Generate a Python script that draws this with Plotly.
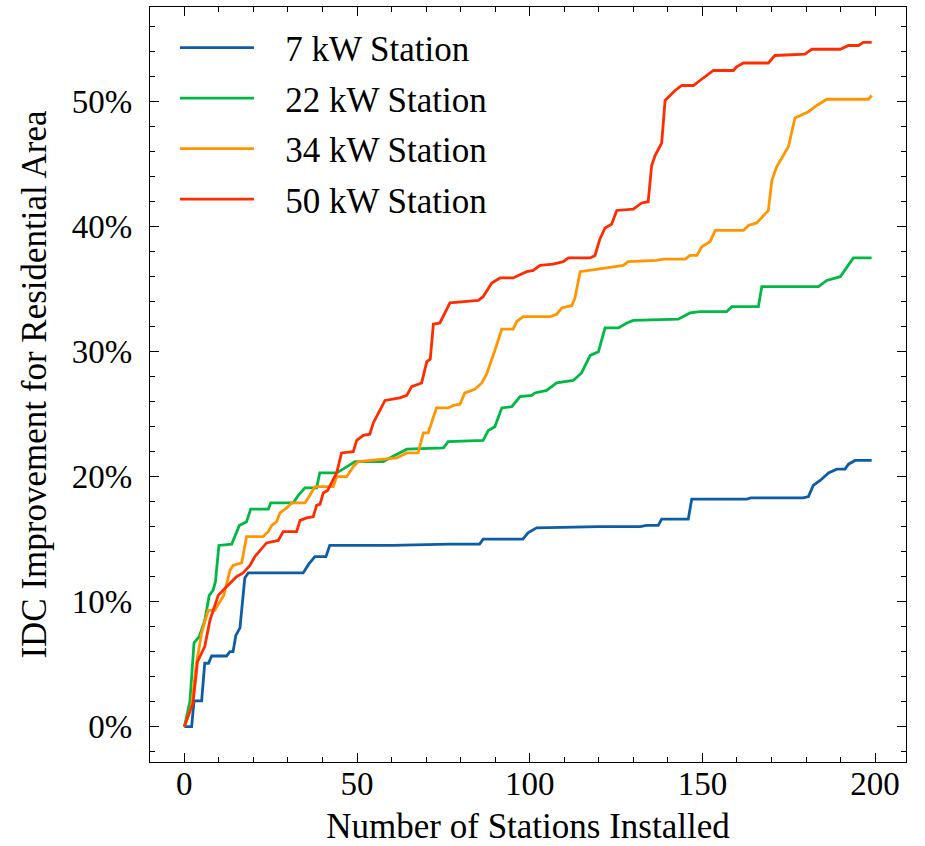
import plotly.graph_objects as go

# ---- data (x = number of stations installed, y = IDC improvement in %) ----
series_names = ["7 kW Station", "22 kW Station", "34 kW Station", "50 kW Station"]
series_colors = ["#0C5DA5", "#00B945", "#FF9500", "#FF2C00"]

x_7kw = [0, 2.1, 2.8, 5.0, 5.9, 7.0, 7.9, 12.2, 13.2, 14.1, 14.9, 16.1, 17.5, 18.5,
         34.4, 36.0, 37.8, 41.0, 42.1, 60.0, 77.0, 85.5, 86.5, 98.0, 99.5, 102.0,
         120.0, 132.0, 133.8, 137.2, 138.2, 145.9, 146.9, 162.8, 164.0, 179.2, 180.7,
         182.1, 184.1, 186.5, 188.9, 191.3, 192.3, 194.2, 199.0]
y_7kw = [0, 0, 2.06, 2.06, 5.07, 5.07, 5.65, 5.65, 6.0, 6.0, 7.3, 7.9, 11.9, 12.3,
         12.3, 13.0, 13.6, 13.6, 14.5, 14.5, 14.6, 14.6, 15.0, 15.0, 15.5, 15.9,
         16.0, 16.0, 16.1, 16.1, 16.6, 16.6, 18.2, 18.2, 18.3, 18.3, 18.4,
         19.3, 19.7, 20.3, 20.6, 20.6, 21.0, 21.3, 21.3]

x_22kw = [0, 1.6, 2.8, 4.3, 5.9, 7.2, 8.3, 9.0, 10.0, 13.7, 14.6, 15.9, 18.0, 19.2,
          24.3, 25.0, 31.5, 33.0, 34.9, 38.3, 39.2, 44.1, 46.5, 49.4, 57.6, 59.5,
          64.4, 75.0, 76.4, 86.5, 88.0, 89.9, 91.9, 94.8, 97.2, 100.6, 101.5, 104.9,
          107.8, 112.6, 115.0, 117.5, 119.9, 121.8, 125.7, 128.1, 130.0, 143.0, 146.4,
          149.3, 157.0, 158.5, 166.2, 167.2, 183.6, 186.0, 189.9, 193.7, 199.0]
y_22kw = [0, 2.0, 6.7, 7.2, 8.5, 10.5, 10.9, 11.6, 14.5, 14.6, 15.2, 16.1, 16.4, 17.4,
          17.4, 17.9, 17.9, 18.5, 19.1, 19.1, 20.3, 20.3, 20.7, 21.2, 21.2, 21.5,
          22.2, 22.3, 22.8, 22.9, 23.7, 24.0, 25.5, 25.6, 26.4, 26.5, 26.7, 26.9,
          27.5, 27.7, 28.3, 29.7, 30.0, 31.9, 31.9, 32.3, 32.5, 32.6, 33.1,
          33.2, 33.2, 33.6, 33.6, 35.2, 35.2, 35.7, 36.0, 37.5, 37.5]

x_34kw = [0, 2.1, 3.5, 5.0, 6.9, 8.8, 10.3, 11.4, 13.2, 14.1, 16.6, 18.0, 22.8, 24.3,
          25.3, 26.7, 27.7, 29.6, 31.1, 34.9, 36.3, 37.8, 43.1, 44.1, 47.0, 48.9, 50.3,
          61.5, 64.4, 67.7, 69.2, 70.6, 73.0, 76.4, 77.9, 79.8, 81.2, 84.1, 86.1, 87.5,
          89.9, 91.9, 95.2, 96.2, 98.1, 105.9, 107.8, 109.3, 112.2, 113.1, 114.6, 119.4,
          122.3, 127.1, 128.5, 136.8, 138.7, 145.0, 146.4, 148.4, 149.8, 152.2, 153.7,
          161.9, 163.3, 165.7, 169.1, 170.1, 171.5, 173.0, 174.9, 176.8, 178.3, 180.7,
          183.1, 186.0, 198.1, 199.0]
y_34kw = [0, 1.7, 5.1, 7.5, 9.3, 9.3, 10.0, 10.5, 12.5, 12.9, 13.1, 15.2, 15.2, 15.6,
          16.1, 16.4, 17.1, 17.5, 17.9, 17.9, 18.5, 19.2, 19.2, 20.0, 20.0, 20.8, 21.2,
          21.5, 21.9, 21.9, 23.5, 23.5, 25.5, 25.5, 25.7, 25.8, 26.7, 27.0, 27.5, 28.2,
          30.1, 31.8, 31.8, 32.4, 32.8, 32.8, 33.0, 33.5, 33.7, 34.3, 36.4, 36.6,
          36.7, 36.9, 37.2, 37.3, 37.4, 37.4, 37.7, 37.7, 38.4, 38.8, 39.7,
          39.7, 40.1, 40.3, 41.3, 43.7, 44.8, 45.5, 46.4, 48.7, 48.9, 49.2,
          49.7, 50.2, 50.2, 50.5]

x_50kw = [0, 2.5, 3.8, 5.9, 7.4, 9.8, 12.2, 15.1, 17.0, 19.0, 20.4, 23.8, 27.2, 28.6,
          32.5, 33.5, 35.4, 37.3, 38.3, 39.3, 40.2, 41.5, 42.6, 44.1, 45.5, 48.9, 49.9,
          51.8, 53.7, 54.7, 56.6, 58.1, 62.4, 64.4, 65.8, 68.7, 70.2, 71.2, 72.1, 74.0,
          76.9, 82.7, 85.1, 86.5, 89.0, 91.4, 95.2, 99.1, 101.0, 103.0, 106.8, 109.7,
          111.2, 117.5, 118.9, 120.3, 121.8, 123.7, 125.2, 130.0, 132.4, 134.3, 135.3,
          136.3, 138.2, 139.2, 142.1, 144.0, 147.4, 149.3, 153.2, 159.0, 159.9, 161.9,
          169.1, 171.0, 179.7, 181.7, 189.9, 192.3, 195.2, 196.6, 199.0]
y_50kw = [0, 1.9, 5.2, 6.4, 8.5, 10.5, 11.2, 12.0, 12.3, 12.9, 13.6, 14.7, 14.9, 15.6,
          15.6, 16.5, 16.7, 16.8, 17.7, 17.8, 18.7, 18.9, 19.5, 20.3, 21.9, 22.0, 22.9,
          23.3, 23.4, 24.3, 25.3, 26.1, 26.3, 26.5, 27.2, 27.5, 29.2, 29.4, 32.2, 32.3,
          33.9, 34.0, 34.1, 34.4, 35.5, 35.9, 35.9, 36.4, 36.5, 36.9, 37.0, 37.2,
          37.5, 37.5, 37.7, 39.0, 39.9, 40.2, 41.3, 41.4, 41.9, 42.0, 44.9,
          45.7, 46.7, 50.1, 50.9, 51.3, 51.3, 51.7, 52.5, 52.5, 52.8, 53.1,
          53.1, 53.7, 53.8, 54.2, 54.2, 54.5, 54.5, 54.75, 54.75]

x_tick_values = [0, 50, 100, 150, 200]
y_tick_values = [0, 10, 20, 30, 40, 50]
y_tick_labels = ["0%", "10%", "20%", "30%", "40%", "50%"]

xs = [x_7kw, x_22kw, x_34kw, x_50kw]
ys = [y_7kw, y_22kw, y_34kw, y_50kw]
for a, b in zip(xs, ys):
    assert len(a) == len(b), (len(a), len(b))

FONT = "Liberation Serif"
PAD = "\u00a0\u00a0\u00a0"  # visual gap between legend line and its label

fig = go.Figure()
for i, (name, color, xv, yv) in enumerate(zip(series_names, series_colors, xs, ys)):
    fig.add_trace(go.Scatter(x=xv, y=yv, mode="lines", name=PAD + name,
                             legendgroup=f"g{i}",
                             line=dict(color=color, width=2.8)))

axis_common = dict(
    showline=True, linecolor="black", linewidth=1.3, mirror="ticks",
    ticks="inside", ticklen=9, tickwidth=1.2, tickcolor="black",
    showgrid=False, zeroline=False, automargin=False,
    tickfont=dict(family=FONT, size=33, color="black"),
)

fig.update_layout(
    width=925, height=846,
    margin=dict(l=150, r=19, t=7, b=84),
    paper_bgcolor="white", plot_bgcolor="white",
    font=dict(family=FONT, size=33, color="black"),
    showlegend=True,
    legend=dict(x=0.033, y=0.985, xanchor="left", yanchor="top",
                bgcolor="rgba(0,0,0,0)", font=dict(family=FONT, size=35),
                itemwidth=74, tracegroupgap=2),
    xaxis=dict(**axis_common, range=[-9.95, 208.95], tickvals=x_tick_values,
               ticklabelstandoff=-8,
               minor=dict(ticks="inside", ticklen=5, tickwidth=1.2, dtick=10,
                          tickcolor="black", showgrid=False),
               title=dict(text="Number of Stations Installed",
                          font=dict(family=FONT, size=35), standoff=14)),
    yaxis=dict(**axis_common, range=[-2.83, 57.58], tickvals=y_tick_values,
               ticktext=y_tick_labels, ticklabelstandoff=10,
               minor=dict(ticks="inside", ticklen=5, tickwidth=1.2, dtick=2,
                          tickcolor="black", showgrid=False),
               title=dict(text="IDC Improvement for Residential Area",
                          font=dict(family=FONT, size=35), standoff=14)),
)

fig.write_html("out.html")
